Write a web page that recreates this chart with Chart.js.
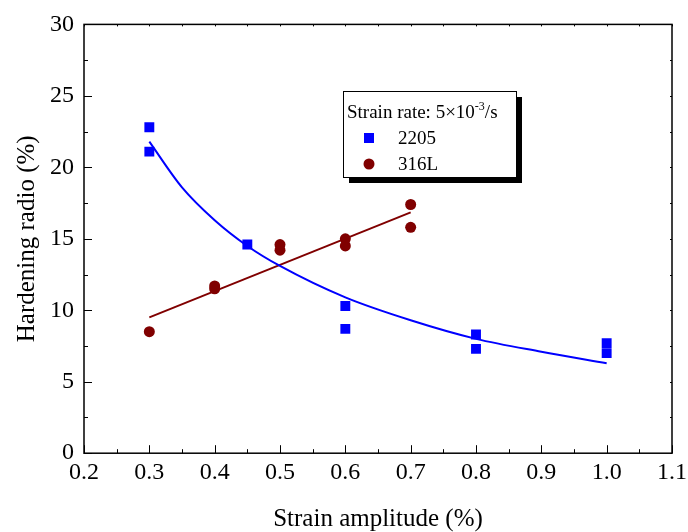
<!DOCTYPE html>
<html>
<head>
<meta charset="utf-8">
<script src="https://cdn.jsdelivr.net/npm/chart.js@4/dist/chart.umd.min.js"></script>
<style>
  html, body { margin: 0; padding: 0; background: #fff; }
  #wrap { width: 688px; height: 532px; }
</style>
</head>
<body>
<div id="wrap"><canvas id="chart" width="688" height="532"></canvas></div>
<script>
// measured points
const x2205 = [0.3, 0.3, 0.45, 0.6, 0.6, 0.8, 0.8, 1.0, 1.0];
const y2205 = [22.8, 21.1, 14.6, 10.3, 8.7, 8.3, 7.3, 7.7, 7.0];
const x316 = [0.3, 0.4, 0.4, 0.5, 0.5, 0.6, 0.6, 0.7, 0.7];
const y316 = [8.5, 11.5, 11.7, 14.6, 14.2, 15.0, 14.5, 17.4, 15.8];

// fitted curves
const fitX2205 = [0.3, 0.35, 0.4, 0.45, 0.5, 0.6, 0.7, 0.8, 0.9, 1.0];
const fitY2205 = [21.8, 18.6, 16.3, 14.5, 13.1, 10.9, 9.3, 8.0, 7.1, 6.3];
const fitX316 = [0.3, 0.7];
const fitY316 = [9.5, 16.85];

const xTicks = [0.2, 0.3, 0.4, 0.5, 0.6, 0.7, 0.8, 0.9, 1.0, 1.1];
const yTicks = [0, 5, 10, 15, 20, 25, 30];

const xTitle = "Strain amplitude (%)";
const yTitle = "Hardening radio (%)";

const BLUE = "#0000ff";
const RED = "#800000";
const FONT = "'Liberation Serif', 'Times New Roman', serif";

function toPoints(xs, ys) {
  return xs.map((x, i) => ({ x: x, y: ys[i] }));
}

// frame, inward ticks (major and minor) and the two axis titles
const frameTicks = {
  id: "frameTicks",
  afterDraw(chart) {
    const { ctx, chartArea: a, scales } = chart;
    ctx.save();
    ctx.strokeStyle = "#000";
    ctx.lineWidth = 1.5;
    ctx.strokeRect(a.left, a.top, a.right - a.left, a.bottom - a.top);
    ctx.lineWidth = 1;
    ctx.beginPath();
    for (let v = 0.2; v <= 1.1001; v += 0.05) {
      const px = Math.round(scales.x.getPixelForValue(v)) + 0.5;
      const major = Math.abs(v * 10 - Math.round(v * 10)) < 1e-6;
      const len = major ? 8 : 4;
      ctx.moveTo(px, a.bottom);
      ctx.lineTo(px, a.bottom - len);
      ctx.moveTo(px, a.top);
      ctx.lineTo(px, a.top + 2);
    }
    for (let v = 0; v <= 30.001; v += 2.5) {
      const py = Math.round(scales.y.getPixelForValue(v)) + 0.5;
      const major = v % 5 === 0;
      const len = major ? 8 : 4;
      ctx.moveTo(a.left, py);
      ctx.lineTo(a.left + len, py);
      ctx.moveTo(a.right, py);
      ctx.lineTo(a.right - 2, py);
    }
    ctx.stroke();

    ctx.fillStyle = "#000";
    ctx.font = "25px " + FONT;
    ctx.textAlign = "center";
    ctx.textBaseline = "middle";
    ctx.fillText(xTitle, (a.left + a.right) / 2, 519);
    ctx.translate(27, (a.top + a.bottom) / 2);
    ctx.rotate(-Math.PI / 2);
    ctx.fillText(yTitle, 0, 0);
    ctx.restore();
  }
};

// boxed legend with drop shadow
const boxLegend = {
  id: "boxLegend",
  afterDraw(chart) {
    const ctx = chart.ctx;
    const bx = 343, by = 91, bw = 173, bh = 86;
    ctx.save();
    ctx.fillStyle = "#000";
    ctx.fillRect(bx + 6, by + 6, bw, bh);
    ctx.fillStyle = "#fff";
    ctx.fillRect(bx, by, bw, bh);
    ctx.strokeStyle = "#000";
    ctx.lineWidth = 1;
    ctx.strokeRect(bx + 0.5, by + 0.5, bw, bh);

    ctx.fillStyle = "#000";
    ctx.textBaseline = "alphabetic";
    ctx.font = "19px " + FONT;
    let tx = bx + 4;
    const base = by + 27;
    const part1 = "Strain rate: 5\u00d710";
    ctx.fillText(part1, tx, base);
    tx += ctx.measureText(part1).width;
    ctx.font = "12px " + FONT;
    ctx.fillText("-3", tx, base - 8);
    tx += ctx.measureText("-3").width;
    ctx.font = "19px " + FONT;
    ctx.fillText("/s", tx, base);

    // entries
    ctx.fillStyle = BLUE;
    ctx.fillRect(bx + 21, by + 42, 10, 10);
    ctx.fillStyle = RED;
    ctx.beginPath();
    ctx.arc(bx + 26, by + 73, 5.5, 0, Math.PI * 2);
    ctx.fill();
    ctx.fillStyle = "#000";
    ctx.fillText("2205", bx + 55, by + 53);
    ctx.fillText("316L", bx + 55, by + 79);
    ctx.restore();
  }
};

new Chart(document.getElementById("chart").getContext("2d"), {
  type: "scatter",
  data: {
    datasets: [
      {
        label: "2205",
        data: toPoints(x2205, y2205),
        pointStyle: "rect",
        pointRadius: 7,
        backgroundColor: BLUE,
        borderWidth: 0,
        order: 0,
      },
      {
        label: "316L",
        data: toPoints(x316, y316),
        pointStyle: "circle",
        pointRadius: 5.5,
        backgroundColor: RED,
        borderWidth: 0,
        order: 0,
      },
      {
        label: "2205 fit",
        data: toPoints(fitX2205, fitY2205),
        showLine: true,
        pointRadius: 0,
        borderColor: BLUE,
        borderWidth: 2,
        cubicInterpolationMode: "monotone",
        order: 1,
      },
      {
        label: "316L fit",
        data: toPoints(fitX316, fitY316),
        showLine: true,
        pointRadius: 0,
        borderColor: RED,
        borderWidth: 2,
        order: 1,
      },
    ],
  },
  options: {
    responsive: false,
    animation: false,
    layout: { padding: { top: 9, right: 0, left: 40, bottom: 40 } },
    plugins: {
      legend: { display: false },
      tooltip: { enabled: false },
    },
    scales: {
      x: {
        type: "linear",
        min: 0.2,
        max: 1.1,
        afterBuildTicks: (axis) => { axis.ticks = xTicks.map((v) => ({ value: v })); },
        // keep room for the last label only as wide as needed
        afterFit: (axis) => { axis.paddingRight = 16; },
        grid: { display: false, drawTicks: false },
        border: { display: false },
        ticks: {
          color: "#000",
          padding: 5,
          maxRotation: 0,
          font: { family: FONT, size: 24 },
          callback: (v) => Number(v).toFixed(1),
        },
      },
      y: {
        min: 0,
        max: 30,
        afterBuildTicks: (axis) => { axis.ticks = yTicks.map((v) => ({ value: v })); },
        grid: { display: false, drawTicks: false },
        border: { display: false },
        ticks: {
          color: "#000",
          padding: 10,
          font: { family: FONT, size: 24 },
        },
      },
    },
  },
  plugins: [frameTicks, boxLegend],
});
</script>
</body>
</html>
